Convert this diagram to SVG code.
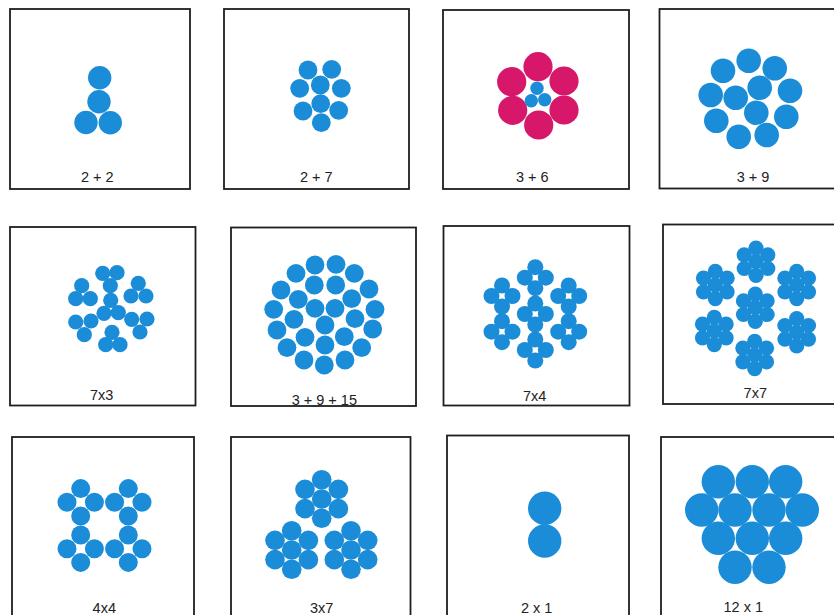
<svg xmlns="http://www.w3.org/2000/svg" xmlns:xlink="http://www.w3.org/1999/xlink" width="834" height="615" viewBox="0 0 834 615">
<style>
.frame{fill:#fff;stroke:#1e1e1e;stroke-width:1.8}
.w{fill:#1b8dd8}
.r{fill:#d6176a}
.label{font-family:"Liberation Sans",Arial,sans-serif;font-size:14.5px;fill:#222;text-anchor:middle}
</style>
<defs>
<g id="q4" class="w"><circle cx="0" cy="-10.5" r="8"/><circle cx="-10.5" cy="0" r="8"/><circle cx="10.5" cy="0" r="8"/><circle cx="0" cy="10.5" r="8"/></g>
<g id="h7" class="w"><circle cx="0" cy="0" r="7.6"/><circle cx="0" cy="-13.6" r="7.6"/><circle cx="0" cy="13.6" r="7.6"/><circle cx="-11.8" cy="-6.8" r="7.6"/><circle cx="11.8" cy="-6.8" r="7.6"/><circle cx="-11.8" cy="6.8" r="7.6"/><circle cx="11.8" cy="6.8" r="7.6"/></g>
<g id="q4b" class="w"><circle cx="0" cy="-13.7" r="9.5"/><circle cx="-13.7" cy="0" r="9.5"/><circle cx="13.7" cy="0" r="9.5"/><circle cx="0" cy="13.7" r="9.5"/></g>
<g id="h7b" class="w"><circle cx="0" cy="0" r="9.8"/><circle cx="0" cy="-19.3" r="9.8"/><circle cx="0" cy="19.3" r="9.8"/><circle cx="-16.7" cy="-9.65" r="9.8"/><circle cx="16.7" cy="-9.65" r="9.8"/><circle cx="-16.7" cy="9.65" r="9.8"/><circle cx="16.7" cy="9.65" r="9.8"/></g>
</defs>
<rect width="834" height="615" fill="#fff"/>

<g id="p-2plus2">
<rect class="frame" x="10" y="9" width="180" height="180"/>
<g class="w"><circle cx="99.7" cy="77.7" r="11.7"/><circle cx="99" cy="101.7" r="11.7"/><circle cx="86" cy="122.5" r="11.7"/><circle cx="110.3" cy="122.7" r="11.7"/></g>
<text class="label" x="97.3" y="181.5">2 + 2</text>
</g>

<g id="p-2plus7">
<rect class="frame" x="224" y="9" width="185" height="180"/>
<g class="w">
<circle cx="308" cy="70" r="9.4"/><circle cx="331.7" cy="69.3" r="9.4"/>
<circle cx="299.7" cy="88.3" r="9.4"/><circle cx="320.3" cy="85" r="9.4"/><circle cx="341.3" cy="88.3" r="9.4"/>
<circle cx="303" cy="111" r="9.4"/><circle cx="320.7" cy="103.7" r="9.4"/><circle cx="338.7" cy="110.3" r="9.4"/>
<circle cx="321.3" cy="122.7" r="9.4"/>
</g>
<text class="label" x="316.3" y="181.5">2 + 7</text>
</g>

<g id="p-3plus6">
<rect class="frame" x="443" y="10" width="186" height="179"/>
<g class="r">
<circle cx="538" cy="66.7" r="14.6"/><circle cx="511.7" cy="81.7" r="14.6"/><circle cx="564" cy="81" r="14.6"/>
<circle cx="512.7" cy="110.3" r="14.6"/><circle cx="564" cy="110" r="14.6"/><circle cx="538.7" cy="125" r="14.6"/>
</g>
<g class="w"><circle cx="537" cy="88.3" r="6.7"/><circle cx="531.3" cy="100.7" r="6.7"/><circle cx="544.7" cy="99.7" r="6.7"/></g>
<text class="label" x="532.3" y="181.5">3 + 6</text>
</g>

<g id="p-3plus9">
<rect class="frame" x="659.5" y="9" width="190" height="179.5"/>
<g class="w">
<circle cx="748.7" cy="60.7" r="12.3"/><circle cx="723" cy="70.7" r="12.3"/><circle cx="774.7" cy="68.3" r="12.3"/>
<circle cx="710.7" cy="95" r="12.3"/><circle cx="735.7" cy="97.7" r="12.3"/><circle cx="759.7" cy="87.7" r="12.3"/><circle cx="790" cy="90.7" r="12.3"/>
<circle cx="716.3" cy="120.7" r="12.3"/><circle cx="756.3" cy="112.7" r="12.3"/><circle cx="786.3" cy="116.7" r="12.3"/>
<circle cx="738.7" cy="136.7" r="12.3"/><circle cx="766.7" cy="135" r="12.3"/>
</g>
<text class="label" x="753" y="181.5">3 + 9</text>
</g>

<g id="p-7x3">
<rect class="frame" x="10" y="227" width="185.5" height="178.5"/>
<g class="w">
<circle cx="102.7" cy="273.3" r="7.6"/><circle cx="117" cy="272.7" r="7.6"/><circle cx="110.3" cy="285.7" r="7.6"/>
<circle cx="81.7" cy="285.7" r="7.6"/><circle cx="75.7" cy="298.7" r="7.6"/><circle cx="90.3" cy="298.7" r="7.6"/>
<circle cx="138.3" cy="283.3" r="7.6"/><circle cx="131" cy="296" r="7.6"/><circle cx="146" cy="296" r="7.6"/>
<circle cx="110.7" cy="300.3" r="7.6"/><circle cx="104" cy="313.3" r="7.6"/><circle cx="118.3" cy="312.7" r="7.6"/>
<circle cx="75.7" cy="322" r="7.6"/><circle cx="91" cy="321" r="7.6"/><circle cx="84.3" cy="334.7" r="7.6"/>
<circle cx="131.7" cy="319.3" r="7.6"/><circle cx="147" cy="319" r="7.6"/><circle cx="140" cy="332" r="7.6"/>
<circle cx="112" cy="332.3" r="7.6"/><circle cx="105.7" cy="344.7" r="7.6"/><circle cx="120" cy="344.7" r="7.6"/>
</g>
<text class="label" x="101.7" y="400">7x3</text>
</g>

<g id="p-3plus9plus15">
<rect class="frame" x="231" y="227.5" width="185" height="178.5"/>
<g class="w">
<circle cx="315" cy="265" r="9.4"/><circle cx="336" cy="264.3" r="9.4"/>
<circle cx="296" cy="273.3" r="9.4"/><circle cx="354.3" cy="273.3" r="9.4"/>
<circle cx="314.3" cy="285" r="9.4"/><circle cx="335.7" cy="285" r="9.4"/>
<circle cx="281" cy="290" r="9.4"/><circle cx="369" cy="289" r="9.4"/>
<circle cx="298.3" cy="299.3" r="9.4"/><circle cx="351.7" cy="298.7" r="9.4"/>
<circle cx="273.7" cy="309.3" r="9.4"/><circle cx="315" cy="308.3" r="9.4"/><circle cx="335" cy="308.3" r="9.4"/><circle cx="375" cy="309.3" r="9.4"/>
<circle cx="294" cy="319.3" r="9.4"/><circle cx="355" cy="318.7" r="9.4"/>
<circle cx="325" cy="325" r="9.4"/>
<circle cx="277" cy="330" r="9.4"/><circle cx="372.7" cy="329" r="9.4"/>
<circle cx="305" cy="337.3" r="9.4"/><circle cx="344.3" cy="336.7" r="9.4"/>
<circle cx="325" cy="345" r="9.4"/>
<circle cx="287" cy="347.7" r="9.4"/><circle cx="361.7" cy="347.7" r="9.4"/>
<circle cx="304" cy="360" r="9.4"/><circle cx="345" cy="360" r="9.4"/>
<circle cx="324.3" cy="365" r="9.4"/>
</g>
<text class="label" x="324.3" y="404.5">3 + 9 + 15</text>
</g>

<g id="p-7x4">
<rect class="frame" x="443.5" y="226" width="186" height="179.5"/>
<use xlink:href="#q4" x="535.3" y="277.7"/>
<use xlink:href="#q4" x="502" y="296"/>
<use xlink:href="#q4" x="568.7" y="296"/>
<use xlink:href="#q4" x="535.3" y="314"/>
<use xlink:href="#q4" x="502" y="331.7"/>
<use xlink:href="#q4" x="568.7" y="331.7"/>
<use xlink:href="#q4" x="535.3" y="350"/>
<text class="label" x="534.7" y="400.5">7x4</text>
</g>

<g id="p-7x7">
<rect class="frame" x="663" y="224.5" width="190" height="179.5"/>
<use xlink:href="#h7" x="756" y="261.7"/>
<use xlink:href="#h7" x="715.3" y="285"/>
<use xlink:href="#h7" x="796.7" y="285"/>
<use xlink:href="#h7" x="755.3" y="307.7"/>
<use xlink:href="#h7" x="714.3" y="331"/>
<use xlink:href="#h7" x="796.7" y="332.3"/>
<use xlink:href="#h7" x="754.7" y="355"/>
<text class="label" x="755.3" y="397.7">7x7</text>
</g>

<g id="p-4x4">
<rect class="frame" x="12" y="437" width="182" height="190"/>
<use xlink:href="#q4b" x="80.7" y="502.3"/>
<use xlink:href="#q4b" x="128.3" y="502.3"/>
<use xlink:href="#q4b" x="80.7" y="548.7"/>
<use xlink:href="#q4b" x="128.3" y="548.7"/>
<text class="label" x="104.3" y="612.7">4x4</text>
</g>

<g id="p-3x7">
<rect class="frame" x="231" y="437" width="179.5" height="190"/>
<use xlink:href="#h7b" x="321.7" y="499"/>
<use xlink:href="#h7b" x="291.7" y="550"/>
<use xlink:href="#h7b" x="351" y="550"/>
<text class="label" x="321.7" y="612.7">3x7</text>
</g>

<g id="p-2x1">
<rect class="frame" x="447" y="435.5" width="182" height="190"/>
<g class="w"><circle cx="544.7" cy="508.3" r="16.7"/><circle cx="544.7" cy="541" r="16.7"/></g>
<text class="label" x="536.7" y="612.7">2 x 1</text>
</g>

<g id="p-12x1">
<rect class="frame" x="661" y="437" width="190" height="190"/>
<g class="w">
<circle cx="718.3" cy="481.7" r="16.7"/><circle cx="752.3" cy="481.7" r="16.7"/><circle cx="785.7" cy="481.7" r="16.7"/>
<circle cx="701.7" cy="510" r="16.7"/><circle cx="735" cy="510" r="16.7"/><circle cx="769" cy="510" r="16.7"/><circle cx="802.3" cy="510" r="16.7"/>
<circle cx="718.3" cy="538.3" r="16.7"/><circle cx="752.3" cy="538.3" r="16.7"/><circle cx="785.7" cy="538.3" r="16.7"/>
<circle cx="735" cy="567.3" r="16.7"/><circle cx="769" cy="567.3" r="16.7"/>
</g>
<text class="label" x="743.3" y="611.7">12 x 1</text>
</g>
</svg>
